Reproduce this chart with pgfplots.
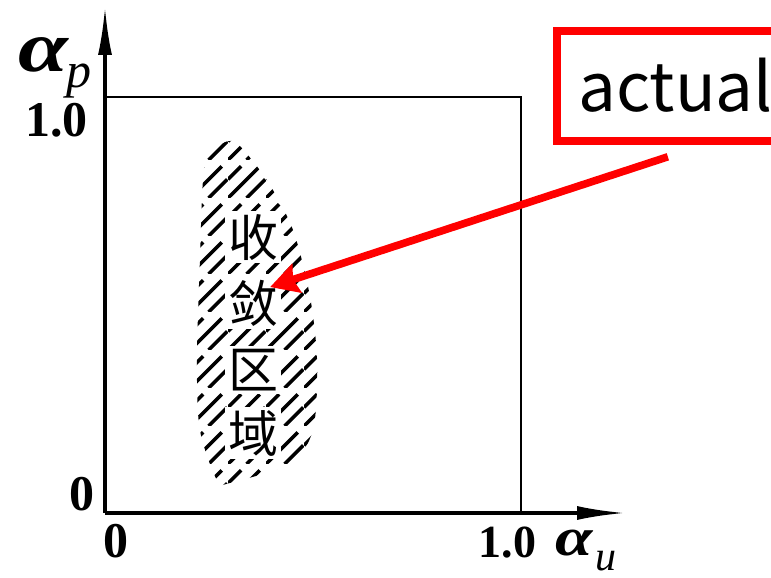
\documentclass[border=0pt]{standalone}
\usepackage{pgfplots}
\pgfplotsset{compat=1.18}
\usepackage{fontspec}
\setmainfont{Liberation Serif}
\newfontfamily\cjk{Noto Sans CJK SC}
\usetikzlibrary{arrows.meta,patterns}

% broken diagonal hatching
\pgfdeclarepatternformonly{brokenlines}{\pgfqpoint{0pt}{0pt}}{\pgfqpoint{19pt}{19pt}}{\pgfqpoint{19pt}{19pt}}{%
  \pgfsetlinewidth{1.8pt}%
  \pgfpathmoveto{\pgfqpoint{0pt}{0pt}}\pgfpathlineto{\pgfqpoint{16.2pt}{16.2pt}}%
  \pgfpathmoveto{\pgfqpoint{9.5pt}{0pt}}\pgfpathlineto{\pgfqpoint{19pt}{9.5pt}}%
  \pgfpathmoveto{\pgfqpoint{0pt}{9.5pt}}\pgfpathlineto{\pgfqpoint{6.7pt}{16.2pt}}%
  \pgfusepath{stroke}}

\definecolor{annored}{RGB}{255,0,0}
\tikzset{cjkchar/.style={fill=white, inner sep=1.5pt, font=\cjk\fontsize{25}{25}\selectfont}}

\begin{document}
\begin{tikzpicture}
\useasboundingbox (-52.5pt,-32.5pt) rectangle (333pt,256.5pt);
\clip (-52.5pt,-32.5pt) rectangle (333pt,256.5pt);
\begin{axis}[
    scale only axis,
    width=260pt, height=253pt,
    xmin=0, xmax=1.25, ymin=0, ymax=1.216,
    axis lines=left,
    axis line style={line width=1.6pt, -{Latex[length=24pt,width=7pt]}},
    xtick=\empty, ytick=\empty,
    clip=false,
]
  % convergence region
  \addplot[pattern=brokenlines, draw=none, smooth] coordinates {
    (0.284,0.889) (0.240,0.841) (0.228,0.601) (0.221,0.361) (0.228,0.200)
    (0.269,0.079) (0.300,0.072) (0.445,0.120) (0.500,0.200) (0.510,0.361)
    (0.493,0.519) (0.452,0.680) (0.389,0.800) (0.317,0.889) (0.284,0.889)
  } -- cycle;
  % unit square
  \addplot[line width=1.2pt, black] coordinates {(0,1) (1,1) (1,0)};

  \node[cjkchar] at (axis cs:0.356,0.663) {收};
  \node[cjkchar] at (axis cs:0.356,0.505) {敛};
  \node[cjkchar] at (axis cs:0.356,0.344) {区};
  \node[cjkchar] at (axis cs:0.356,0.192) {域};

  % tick labels
  \node[anchor=base east, font=\bfseries\fontsize{25}{25}\selectfont, inner sep=0pt] at (axis cs:-0.041,0.904) {1.0};
  \node[anchor=base east, font=\bfseries\fontsize{25}{25}\selectfont, inner sep=0pt] at (axis cs:-0.024,0.005) {0};
  \node[anchor=base west, font=\bfseries\fontsize{25}{25}\selectfont, inner sep=0pt] at (axis cs:-0.005,-0.108) {0};
  \node[anchor=base west, font=\bfseries\fontsize{23}{23}\selectfont, inner sep=0pt] at (axis cs:0.897,-0.106) {1.0};

  % axis names
  \node[anchor=base west, font=\bfseries\itshape\fontsize{36}{36}\selectfont, inner sep=0pt, xscale=1.25, transform shape] at (axis cs:-0.209,1.060) {α};
  \node[anchor=base west, font=\itshape\fontsize{25}{25}\selectfont, inner sep=0pt] at (axis cs:-0.094,1.022) {p};
  \node[anchor=base west, font=\bfseries\itshape\fontsize{27}{27}\selectfont, inner sep=0pt, xscale=1.25, transform shape] at (axis cs:1.082,-0.103) {α};
  \node[anchor=base west, font=\itshape\fontsize{21}{21}\selectfont, inner sep=0pt] at (axis cs:1.178,-0.139) {u};

  % annotation
  \draw[annored, line width=4pt] (axis cs:1.70,1.1587) -- (axis cs:1.0865,1.1587) -- (axis cs:1.0865,0.894) -- (axis cs:1.70,0.894);
  \node[anchor=base west, font=\cjk\fontsize{33.6}{33.6}\selectfont, inner sep=0pt] at (axis cs:1.137,0.964) {actual};
  \draw[annored, line width=3.8pt, -{Stealth[length=14pt,width=15pt,inset=2pt]}] (axis cs:1.353,0.856) -- (axis cs:0.397,0.543);
\end{axis}
\end{tikzpicture}
\end{document}
